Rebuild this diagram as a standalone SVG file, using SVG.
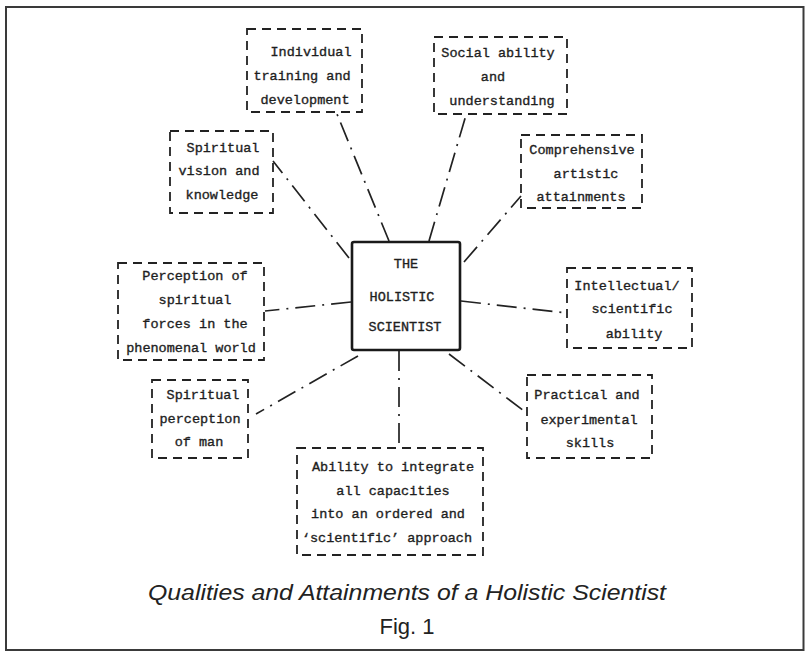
<svg xmlns="http://www.w3.org/2000/svg" width="805" height="656" viewBox="0 0 805 656">
<defs>
<style>
.frame{fill:none;stroke:#3a3a3a;stroke-width:2}
.box{fill:none;stroke:#222;stroke-width:1.8;stroke-dasharray:9 6}
.core{fill:none;stroke:#1a1a1a;stroke-width:2.6}
.conn{fill:none;stroke:#222;stroke-width:1.7;stroke-dasharray:20 7 2 7}
.t{font-family:"Liberation Mono","Courier New",monospace;font-size:13.5px;fill:#1e1e1e;stroke:#1e1e1e;stroke-width:0.35;text-anchor:middle}
.cap{font-family:"Liberation Sans",Arial,sans-serif;font-size:22px;fill:#222;text-anchor:middle}
</style>
</defs>
<rect width="805" height="656" fill="#fff"/>
<rect class="frame" x="6" y="7" width="797.5" height="643"/>

<g id="connectors">
<line class="conn" x1="389" y1="241" x2="337" y2="114"/>
<line class="conn" x1="349" y1="258" x2="273" y2="161"/>
<line class="conn" x1="429" y1="241" x2="466" y2="115"/>
<line class="conn" x1="464" y1="262" x2="521" y2="196"/>
<line class="conn" x1="351" y1="302" x2="265" y2="311"/>
<line class="conn" x1="461" y1="301" x2="567" y2="313"/>
<line class="conn" x1="358" y1="356" x2="256" y2="414"/>
<line class="conn" x1="399" y1="351" x2="399" y2="448"/>
<line class="conn" x1="449" y1="354" x2="524" y2="411"/>
</g>

<g id="center">
<rect class="core" x="352" y="242" width="108" height="108" rx="2"/>
<text class="t" x="406" y="268">THE</text>
<text class="t" x="402" y="301">HOLISTIC</text>
<text class="t" x="405" y="331">SCIENTIST</text>
</g>

<g id="individual">
<rect class="box" x="247" y="29" width="115" height="83"/>
<text class="t" x="311" y="56">Individual</text>
<text class="t" x="302" y="80">training and</text>
<text class="t" x="305" y="104">development</text>
</g>

<g id="social">
<rect class="box" x="434" y="37" width="133" height="77"/>
<text class="t" x="498" y="57">Social ability</text>
<text class="t" x="493" y="81">and</text>
<text class="t" x="502" y="105">understanding</text>
</g>

<g id="spiritual-vision">
<rect class="box" x="170" y="131" width="103" height="82"/>
<text class="t" x="223" y="152">Spiritual</text>
<text class="t" x="219" y="175">vision and</text>
<text class="t" x="222" y="199">knowledge</text>
</g>

<g id="artistic">
<rect class="box" x="521" y="135" width="121" height="73"/>
<text class="t" x="582" y="154">Comprehensive</text>
<text class="t" x="586" y="178">artistic</text>
<text class="t" x="581" y="201">attainments</text>
</g>

<g id="perception-forces">
<rect class="box" x="118" y="263" width="146" height="97"/>
<text class="t" x="195" y="280">Perception of</text>
<text class="t" x="195" y="304">spiritual</text>
<text class="t" x="195" y="328">forces in the</text>
<text class="t" x="191" y="352">phenomenal world</text>
</g>

<g id="intellectual">
<rect class="box" x="567" y="268" width="125" height="80"/>
<text class="t" x="627" y="290">Intellectual/</text>
<text class="t" x="632" y="313">scientific</text>
<text class="t" x="634" y="338">ability</text>
</g>

<g id="spiritual-perception">
<rect class="box" x="152" y="380" width="96" height="78"/>
<text class="t" x="203" y="399">Spiritual</text>
<text class="t" x="200" y="423">perception</text>
<text class="t" x="199" y="446">of man</text>
</g>

<g id="practical">
<rect class="box" x="527" y="375" width="125" height="83"/>
<text class="t" x="587" y="399">Practical and</text>
<text class="t" x="589" y="424">experimental</text>
<text class="t" x="590" y="447">skills</text>
</g>

<g id="integrate">
<rect class="box" x="297" y="448" width="186" height="107"/>
<text class="t" x="393" y="471">Ability to integrate</text>
<text class="t" x="393" y="495">all capacities</text>
<text class="t" x="388" y="518">into an ordered and</text>
<text class="t" x="387" y="542">‘scientific’ approach</text>
</g>

<g id="caption">
<text class="cap" x="407" y="600" font-style="italic" textLength="518" lengthAdjust="spacingAndGlyphs">Qualities and Attainments of a Holistic Scientist</text>
<text class="cap" x="407" y="634">Fig. 1</text>
</g>
</svg>
